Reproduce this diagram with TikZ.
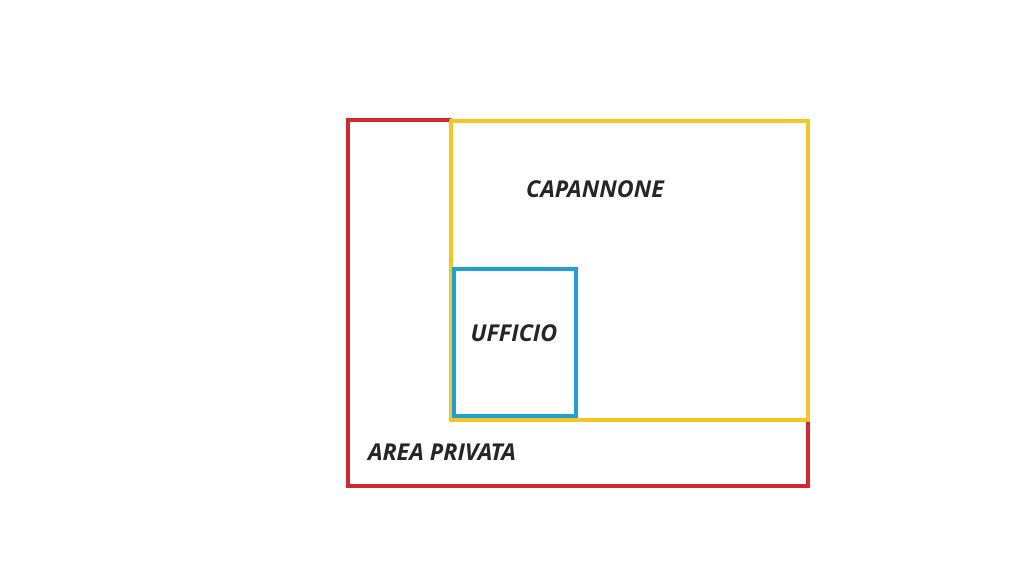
\documentclass[tikz,border=0pt]{standalone}
\usepackage{fontspec}
\setmainfont{Open Sans}
\usetikzlibrary{positioning}
\definecolor{redline}{RGB}{211,39,50}
\definecolor{yellowline}{RGB}{245,197,35}
\definecolor{blueline}{RGB}{30,160,210}
\tikzset{
  wall/.style={line width=1.3pt,line cap=round},
  label/.style={font=\fontsize{6.6}{7.5}\selectfont\bfseries\itshape,text=black!85,inner sep=0pt}
}
\begin{document}
\begin{tikzpicture}[x=0.01cm,y=-0.01cm]
  \useasboundingbox[fill=white] (0,0) rectangle (1024,576);

  % area privata
  \draw[wall,redline] (450,120) -- (348,120) -- (348,486) -- (808,486) -- (808,421);
  % capannone
  \draw[wall,yellowline] (451,121) rectangle (808,420);
  % ufficio
  \draw[wall,blueline] (454,269) rectangle (576,416);

  \node[label] (capannone) at (595,189) {CAPANNONE};
  \node[label] (ufficio) at (514,333) {UFFICIO};
  \node[label] (area) at (442,452) {AREA PRIVATA};
\end{tikzpicture}
\end{document}
